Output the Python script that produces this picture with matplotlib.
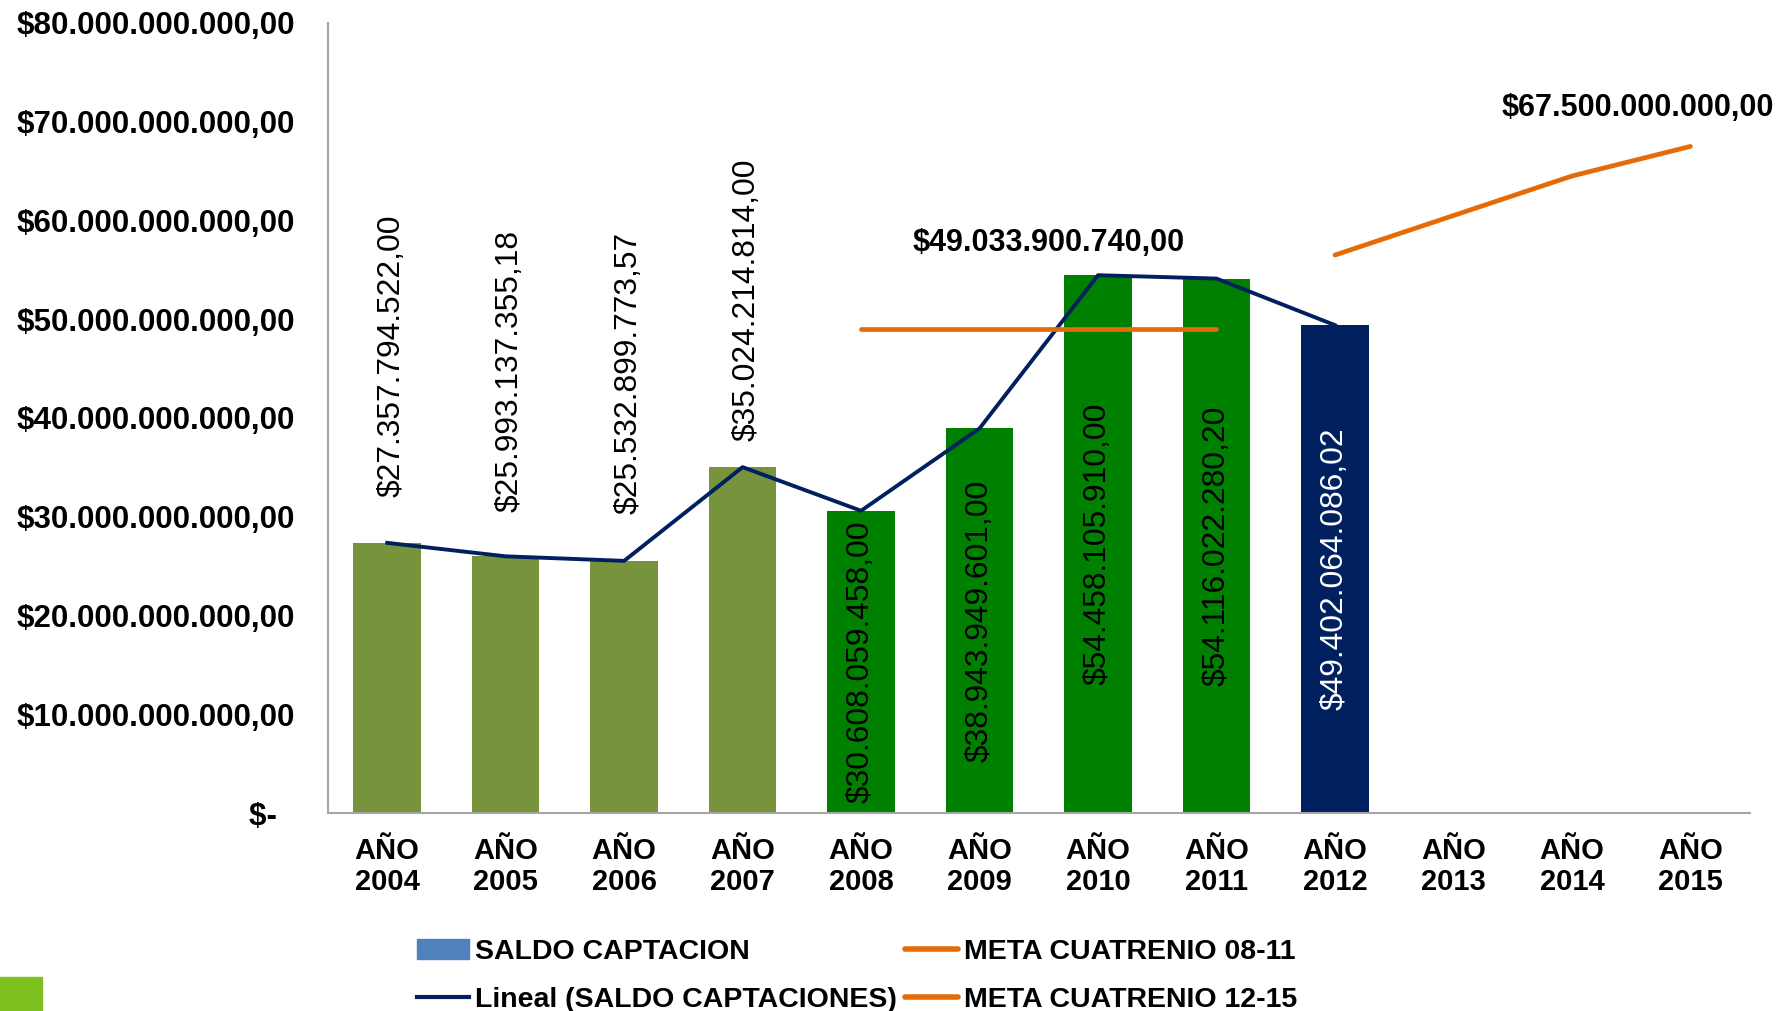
import numpy as np
import matplotlib
matplotlib.use("Agg")
import matplotlib.pyplot as plt
from matplotlib.patches import Patch, Rectangle
from matplotlib.lines import Line2D

plt.rcParams['font.family'] = ['Liberation Sans', 'DejaVu Sans']
plt.rcParams['text.parse_math'] = False

# =========================
# DATOS
# =========================
anios = ["AÑO\n2004", "AÑO\n2005", "AÑO\n2006", "AÑO\n2007", "AÑO\n2008", "AÑO\n2009",
         "AÑO\n2010", "AÑO\n2011", "AÑO\n2012", "AÑO\n2013", "AÑO\n2014", "AÑO\n2015"]

saldo = [27357794522.00, 25993137355.18, 25532899773.57, 35024214814.00,
         30608059458.00, 38943949601.00, 54458105910.00, 54116022280.20,
         49402064086.02]

meta_08_11 = [49033900740.00, 49033900740.00, 49033900740.00, 49033900740.00]   # 2008-2011
meta_12_15 = [56500000000.00, 60500000000.00, 64500000000.00, 67500000000.00]   # 2012-2015

yticks = [0, 10e9, 20e9, 30e9, 40e9, 50e9, 60e9, 70e9, 80e9]
ytick_labels = ["$-  ", "$10.000.000.000,00", "$20.000.000.000,00", "$30.000.000.000,00",
                "$40.000.000.000,00", "$50.000.000.000,00", "$60.000.000.000,00",
                "$70.000.000.000,00", "$80.000.000.000,00"]

# colores
OLIVA = "#77933C"
VERDE = "#008000"
NAVY = "#002060"
NARANJA = "#E36C09"
AZUL_LEY = "#4F81BD"

colores = [OLIVA] * 4 + [VERDE] * 4 + [NAVY]
pad_arriba = [33, 32, 34, 19]   # separación (pt) de las etiquetas sobre las barras 2004-2007


def pesos(v):
    s = f"{v:,.2f}"
    return "$" + s.replace(",", "X").replace(".", ",").replace("X", ".")


# =========================
# GRAFICO
# =========================
fig = plt.figure(figsize=(17.91, 10.11), dpi=100)
ax = fig.add_axes([0.1831, 0.1958, 0.7938, 0.7815])

x = np.arange(len(anios))
xs = x[:len(saldo)]
ax.bar(xs, saldo, width=0.57, color=colores, zorder=2)
ax.plot(xs, saldo, color=NAVY, lw=2.8, zorder=3)
ax.plot(x[4:8], meta_08_11, color=NARANJA, lw=3.4, solid_capstyle='round', zorder=4)
ax.plot(x[8:12], meta_12_15, color=NARANJA, lw=3.4, solid_capstyle='round', zorder=4)

# etiquetas de las barras
for i, v in enumerate(saldo):
    if i < 4:
        ax.annotate(pesos(v), (xs[i], v), xytext=(3, pad_arriba[i]), textcoords='offset points',
                    rotation=90, ha='center', va='bottom', fontsize=22.9, color='black')
    else:
        c = 'white' if colores[i] == NAVY else 'black'
        ax.text(xs[i], v / 2, pesos(v), rotation=90, ha='center', va='center',
                fontsize=22.9, color=c, zorder=5)

ax.annotate(pesos(meta_08_11[0]), (5.5, meta_08_11[0]), xytext=(7, 62), textcoords='offset points',
            ha='center', va='center', fontsize=22, fontweight='bold')
ax.annotate(pesos(meta_12_15[-1]), (x[-1], meta_12_15[-1]), xytext=(-38, 28),
            textcoords='offset points', ha='center', va='center', fontsize=22, fontweight='bold')

ax.set_xlim(-0.5, len(anios) - 0.5)
ax.set_ylim(0, 80e9)
ax.set_xticks(x)
ax.set_xticklabels(anios, fontsize=21, fontweight='bold', linespacing=1.16)
ax.set_yticks(yticks)
ax.set_yticklabels(ytick_labels, fontsize=22.5, fontweight='bold')
ax.tick_params(axis='y', length=0, pad=24)
ax.tick_params(axis='x', length=0, pad=17)

for s in ['top', 'right']:
    ax.spines[s].set_visible(False)
for s in ['left', 'bottom']:
    ax.spines[s].set_color('#A6A6A6')
    ax.spines[s].set_linewidth(1.5)

# leyenda
handles = [Patch(color=AZUL_LEY), Line2D([], [], color=NAVY, lw=3),
           Line2D([], [], color=NARANJA, lw=4, solid_capstyle='round'),
           Line2D([], [], color=NARANJA, lw=4, solid_capstyle='round')]
labels = ["SALDO CAPTACION", "Lineal (SALDO CAPTACIONES)", "META CUATRENIO 08-11", "META CUATRENIO 12-15"]
fig.legend(handles, labels, ncol=2, loc='upper left', bbox_to_anchor=(0.2328, 0.071),
           frameon=False, borderpad=0, borderaxespad=0, handlelength=1.84, handletextpad=0.2,
           columnspacing=0.3, labelspacing=0.78, prop={'size': 20.5, 'weight': 'bold'})

# cuadro verde de la esquina
fig.patches.append(Rectangle((0, 0), 42 / 1791, 34 / 1011, transform=fig.transFigure,
                             color="#7DC11E", zorder=0))

plt.savefig("out.png", dpi=100)
